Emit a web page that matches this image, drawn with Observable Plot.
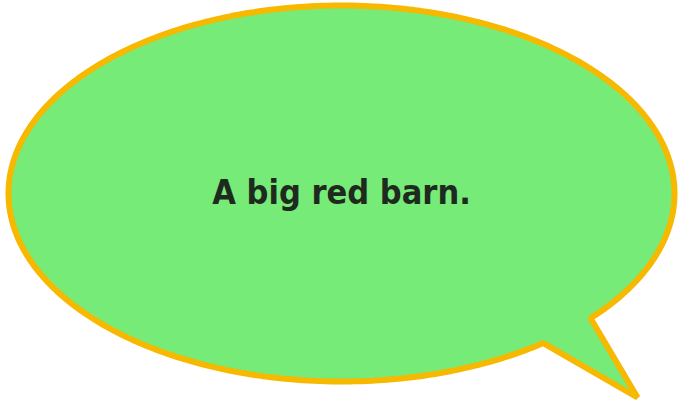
<!DOCTYPE html>
<html><head><meta charset="utf-8">
<script src="https://cdn.jsdelivr.net/npm/d3@7"></script>
<script src="https://cdn.jsdelivr.net/npm/@observablehq/plot@0.6"></script>
<style>body{margin:0;background:#fff}</style>
</head><body><div id="chart"></div>
<script>
// bubble geometry (pixel space)
const bubbleCenter = [341, 193];
const bubbleRadii = [333, 188];
const tailGap = [41.6, 52.7]; // degrees where the tail leaves the ellipse
const tailTip = [637, 397];
const label = ["A big red barn."];

const [cx, cy] = bubbleCenter, [rx, ry] = bubbleRadii;
const outline = [];
const pt = (deg) => {
  const t = deg * Math.PI / 180;
  return {x: cx + rx * Math.cos(t), y: cy + ry * Math.sin(t)};
};
for (let d = 0; d <= tailGap[0]; d += 1) outline.push(pt(d));
outline.push(pt(tailGap[0]));
outline.push({x: tailTip[0], y: tailTip[1]});
for (let d = tailGap[1]; d <= 360; d += 1) outline.push(pt(d));
outline.push(pt(0));

const chart = Plot.plot({
  width: 689,
  height: 411,
  margin: 0,
  x: {domain: [0, 689], range: [0, 689], axis: null},
  y: {domain: [0, 411], range: [0, 411], axis: null},
  marks: [
    Plot.line(outline, {x: "x", y: "y", fill: "#77eb77", stroke: "#f7b800", strokeWidth: 6, strokeLinejoin: "miter"}),
    Plot.text(label, {x: cx, y: cy, text: d => d, fontSize: 34, fontWeight: "bold",
      fill: "#1f2a1f", fontFamily: "DejaVu Sans Condensed, DejaVu Sans", fontStretch: "condensed"})
  ],
  style: {background: "white", overflow: "visible"}
});
d3.select("#chart").append(() => chart);
</script>
</body></html>
